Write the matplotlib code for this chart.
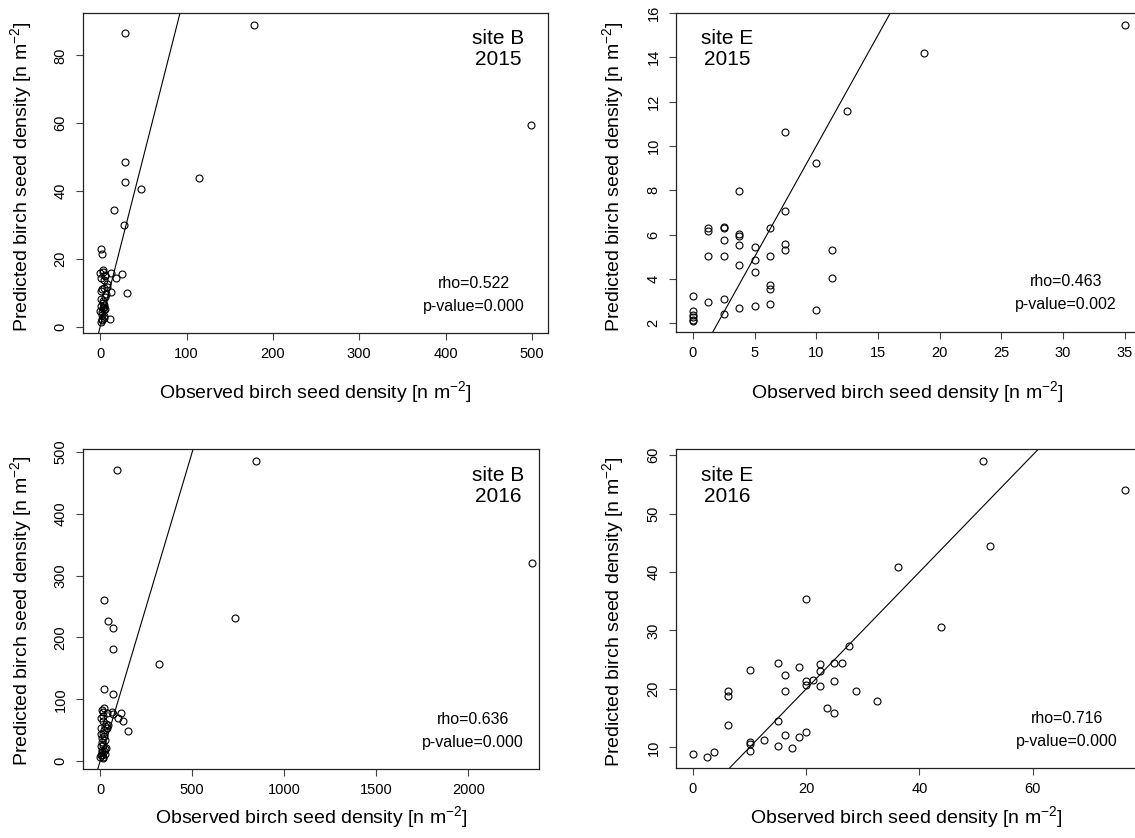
import matplotlib
matplotlib.use("Agg")
import matplotlib.pyplot as plt

plt.rcParams['font.family'] = ['Liberation Sans', 'DejaVu Sans']
plt.rcParams['mathtext.fontset'] = 'custom'
plt.rcParams['mathtext.rm'] = 'Liberation Sans'
plt.rcParams['mathtext.it'] = 'Liberation Sans:italic'

# site B 2015 (observed, predicted)
b15_obs = [178, 29, 499, 115, 29, 29, 47, 16, 28, 1, 2.5, 25, 18, 31, 11,
           0, 3, 1, 6, 12, 8, 5, 1, 12, 6, 3, 1, 6, 2, 0, 5, 2.5, 1, 4, 2,
           7, 3, 5, 4, 2, 6, 1, 3, 8, 4, 2, 5, 3]
b15_pred = [89.1, 86.6, 59.5, 43.7, 48.5, 42.6, 40.7, 34.4, 30.1, 22.8, 21.3, 15.4, 14.2, 9.8, 2.2,
            15.9, 16.8, 14.4, 15.2, 15.9, 12.7, 11.5, 10.5, 10.2, 8.8, 7.6, 6.0, 5.3, 4.3, 4.6,
            3.1, 1.9, 1.4, 13.8, 11.0, 9.5, 5.5, 6.5, 2.5, 3.5, 14.8, 8.2, 16.2, 11.8, 4.8, 2.2, 5.9, 7.0]

# site E 2015
e15_obs = [35, 18.75, 12.5, 7.5, 10, 3.75, 7.5, 6.25, 1.25, 1.25, 2.5, 2.5, 3.75, 3.75, 2.5,
           3.75, 5, 7.5, 7.5, 11.25, 1.25, 2.5, 6.25, 5, 3.75, 5, 11.25, 6.25, 6.25, 0,
           1.25, 2.5, 6.25, 5, 3.75, 10, 2.5, 0, 0, 0, 0, 0]
e15_pred = [15.47, 14.18, 11.59, 10.63, 9.22, 7.95, 7.09, 6.31, 6.28, 6.16, 6.34, 6.28, 6.04, 5.95, 5.74,
            5.53, 5.45, 5.57, 5.30, 5.33, 5.06, 5.06, 5.06, 4.84, 4.61, 4.30, 4.03, 3.71, 3.56, 3.25,
            2.98, 3.10, 2.89, 2.80, 2.69, 2.60, 2.41, 2.54, 2.39, 2.29, 2.17, 2.10]

# site B 2016
b16_obs = [844, 91, 2345, 735, 23, 41, 68, 68, 322, 23, 70, 111, 99, 126, 149, 66, 72, 37,
           8, 23, 17, 4, 14, 4, 27, 37, 17, 8, 27, 17, 33, 8, 4, 17, 27, 0,
           12, 20, 6, 10, 22, 30, 15, 5, 25, 9, 13, 19, 45]
b16_pred = [486, 471, 320, 232, 260, 227, 216, 181, 157, 117, 109, 77, 70, 64, 48, 80, 76, 77,
            83, 85, 80, 69, 64, 53, 56, 53, 45, 37, 34, 26, 21, 18, 10, 7, 12, 6,
            30, 40, 24, 14, 50, 60, 72, 44, 20, 9, 5, 16, 58]

# site E 2016
e16_obs = [51.25, 76.25, 52.5, 36.25, 20, 43.75, 27.5, 15, 18.75, 22.5, 25, 26.25, 10, 22.5, 16.25,
           21.25, 20, 20, 25, 22.5, 6.25, 6.25, 16.25, 28.75, 32.5, 23.75, 25, 15, 6.25, 20,
           16.25, 18.75, 12.5, 10, 10, 10, 15, 17.5, 0, 2.5, 3.75]
e16_pred = [59.0, 54.1, 44.5, 40.8, 35.4, 30.6, 27.3, 24.4, 23.7, 24.2, 24.4, 24.5, 23.3, 23.0, 22.3,
            21.6, 21.3, 20.6, 21.4, 20.5, 19.7, 18.8, 19.7, 19.7, 17.9, 16.8, 15.8, 14.5, 13.9, 12.7,
            12.2, 11.7, 11.3, 11.0, 10.6, 9.4, 10.2, 9.9, 8.8, 8.4, 9.2]

titles = ["site B\n2015", "site E\n2015", "site B\n2016", "site E\n2016"]
stats = ["rho=0.522", "rho=0.463", "rho=0.636", "rho=0.716"]
pvals = ["p-value=0.000", "p-value=0.002", "p-value=0.000", "p-value=0.000"]

W, H = 1135, 838
fig = plt.figure(figsize=(W / 100, H / 100), dpi=100)


def fx(x):
    return x / W


def fy(y):
    return 1 - y / H


xlabel = r"Observed birch seed density [n m$^{-2}$]"
ylabel = r"Predicted birch seed density [n m$^{-2}$]"

# box in pixels (left, right, top, bottom), limits, ticks, text positions
panels = [
    dict(obs=b15_obs, pred=b15_pred, box=(83, 548, 13, 333), xlim=(-19.9, 518.7), ylim=(-1.9, 92.5),
         xt=range(0, 501, 100), yt=range(0, 81, 20), title_x=498, title_y=49, stat_x=474, stat_y=283,
         xl=(315, 392), yl=(21, 177)),
    dict(obs=e15_obs, pred=e15_pred, box=(676, 1142, 13, 332), xlim=(-1.37, 36.4), ylim=(1.61, 16.0),
         xt=range(0, 36, 5), yt=range(2, 17, 2), title_x=727, title_y=49, stat_x=1066, stat_y=282,
         xl=(907, 392), yl=(613, 177)),
    dict(obs=b16_obs, pred=b16_pred, box=(83, 539, 449, 769), xlim=(-93.4, 2384), ylim=(-13, 505),
         xt=range(0, 2001, 500), yt=range(0, 501, 100), title_x=498, title_y=486, stat_x=473, stat_y=719,
         xl=(311, 817), yl=(21, 611)),
    dict(obs=e16_obs, pred=e16_pred, box=(676, 1142, 449, 768), xlim=(-2.98, 79.3), ylim=(6.48, 61.03),
         xt=range(0, 61, 20), yt=range(10, 61, 10), title_x=727, title_y=486, stat_x=1067, stat_y=718,
         xl=(906, 817), yl=(613, 612)),
]

for i, p in enumerate(panels):
    l, r, t, b = p["box"]
    ax = fig.add_axes([fx(l), fy(b), (r - l) / W, (b - t) / H])
    ax.plot(p["obs"], p["pred"], "o", mfc="none", mec="black", ms=5.0, mew=0.8, clip_on=False)
    ax.axline((0, 0), slope=1, color="black", lw=0.8)
    ax.set_xlim(p["xlim"])
    ax.set_ylim(p["ylim"])
    ax.set_xticks(list(p["xt"]))
    ax.set_yticks(list(p["yt"]))
    for s in ax.spines.values():
        s.set_linewidth(0.9)
        s.set_color("#222222")
    ax.tick_params(axis="both", direction="out", length=5, width=0.8, labelsize=10.5, color="#444444")
    ax.tick_params(axis="x", pad=5)
    ax.tick_params(axis="y", pad=6, labelrotation=90)
    for lab in ax.get_yticklabels():
        lab.set_verticalalignment("center")

    fig.text(fx(p["title_x"]), fy(p["title_y"]), titles[i], ha="center", va="center",
             fontsize=15, linespacing=1.12)
    fig.text(fx(p["stat_x"]), fy(p["stat_y"]), stats[i], ha="center", va="center", fontsize=11.5)
    fig.text(fx(p["stat_x"]), fy(p["stat_y"] + 23), pvals[i], ha="center", va="center", fontsize=11.5)
    fig.text(fx(p["xl"][0]), fy(p["xl"][1]), xlabel, ha="center", va="center", fontsize=14)
    fig.text(fx(p["yl"][0]), fy(p["yl"][1]), ylabel, ha="center", va="center", fontsize=14, rotation=90)

fig.savefig("out.png", dpi=100)
